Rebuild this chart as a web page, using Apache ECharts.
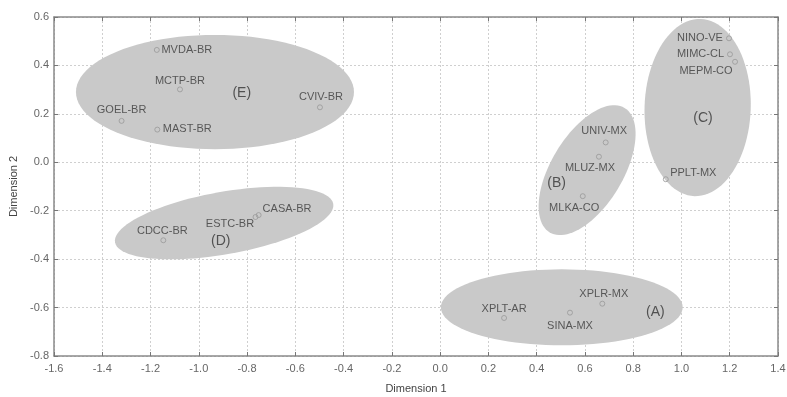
<!DOCTYPE html>
<html><head><meta charset="utf-8">
<script src="https://cdn.jsdelivr.net/npm/echarts@6/dist/echarts.min.js"></script>
<style>html,body{margin:0;padding:0;background:#fff}#c{width:787px;height:397px}</style>
</head><body><div id="c"></div>
<script>
// ---- data ----
const pointNames = ['MVDA-BR','MCTP-BR','GOEL-BR','MAST-BR','CVIV-BR','NINO-VE','MIMC-CL','MEPM-CO','PPLT-MX','UNIV-MX','MLUZ-MX','MLKA-CO','CASA-BR','ESTC-BR','CDCC-BR','XPLT-AR','SINA-MX','XPLR-MX'];
const dim1 = [-1.174,-1.078,-1.320,-1.172,-0.498,1.197,1.201,1.222,0.935,0.686,0.658,0.591,-0.752,-0.765,-1.147,0.265,0.538,0.672];
const dim2 = [0.464,0.301,0.171,0.135,0.227,0.512,0.446,0.415,-0.070,0.082,0.023,-0.140,-0.218,-0.226,-0.322,-0.643,-0.621,-0.584];

const clusterNames = ['(A)','(B)','(C)','(D)','(E)'];
const clusterLabelX = [0.892,0.483,1.089,-0.909,-0.822];
const clusterLabelY = [-0.618,-0.0875,0.182,-0.326,0.287];

const ellipseCx = [0.504,0.609,1.067,-0.895,-0.933];
const ellipseCy = [-0.599,-0.0325,0.226,-0.251,0.290];
const ellipseRx = [0.501,0.149,0.220,0.459,0.576];
const ellipseRy = [0.157,0.300,0.366,0.129,0.236];
const ellipseAngle = [0,-31,-2,10,0];

const xMin = -1.6, xMax = 1.4, yMin = -0.8, yMax = 0.6, step = 0.2;
const xTitle = 'Dimension 1', yTitle = 'Dimension 2';

// ---- label placement (style) ----
const labelOffset = {
  'MVDA-BR':[30,0],'MCTP-BR':[0,-8],'GOEL-BR':[0,-10.5],'MAST-BR':[30,-1],'CVIV-BR':[1,-10],
  'NINO-VE':[-29,0],'MIMC-CL':[-29.5,0],'MEPM-CO':[-29,9],'PPLT-MX':[27.5,-6.7],
  'UNIV-MX':[-1.5,-11.7],'MLUZ-MX':[-9,11],'MLKA-CO':[-8.6,11.3],
  'CASA-BR':[28.4,-6],'ESTC-BR':[-25.5,6.5],'CDCC-BR':[-1,-9],
  'XPLT-AR':[0,-9.5],'SINA-MX':[0,13],'XPLR-MX':[1.5,-10]
};

const FONT = '"Liberation Sans", Arial, sans-serif';
const chart = echarts.init(document.getElementById('c'), null, {renderer:'canvas'});

const pts = pointNames.map((n,i)=>({
  name:n, value:[dim1[i], dim2[i]],
  label:{offset: labelOffset[n] || [0,0]}
}));
const clusters = clusterNames.map((n,i)=>({name:n, value:[clusterLabelX[i], clusterLabelY[i]]}));
const ellipses = ellipseCx.map((c,i)=>[c, ellipseCy[i], ellipseRx[i], ellipseRy[i], ellipseAngle[i]]);

const fmt = v => (Math.abs(v) < 1e-9 ? 0 : v).toFixed(1);
const axisLineStyle = {color:'#8a8a8a', width:1.5};

chart.setOption({
  animation:false,
  backgroundColor:'#fff',
  grid:{left:54, right:9, top:17, bottom:41, containLabel:false, outerBoundsMode:'none'},
  xAxis:[{
    type:'value', min:xMin, max:xMax, interval:step, position:'bottom',
    name:xTitle, nameLocation:'middle', nameGap:27,
    nameTextStyle:{fontFamily:FONT, fontSize:11, color:'#444'},
    axisLine:{show:true, onZero:false, lineStyle:axisLineStyle},
    axisTick:{show:true, inside:true, length:4, lineStyle:{color:'#777'}},
    axisLabel:{formatter:fmt, fontFamily:FONT, fontSize:11, color:'#666', margin:7},
    splitLine:{show:true, lineStyle:{color:'#cfcfcf', type:[2,2], width:1}}
  },{
    type:'value', min:xMin, max:xMax, interval:step, position:'top',
    axisLine:{show:true, onZero:false, lineStyle:axisLineStyle},
    axisTick:{show:true, inside:true, length:4, lineStyle:{color:'#777'}},
    axisLabel:{show:false}, splitLine:{show:false}
  }],
  yAxis:[{
    type:'value', min:yMin, max:yMax, interval:step, position:'left',
    name:yTitle, nameLocation:'middle', nameGap:32,
    nameTextStyle:{fontFamily:FONT, fontSize:11, color:'#444'},
    axisLine:{show:true, onZero:false, lineStyle:axisLineStyle},
    axisTick:{show:true, inside:true, length:4, lineStyle:{color:'#777'}},
    axisLabel:{formatter:fmt, fontFamily:FONT, fontSize:11, color:'#666', margin:5},
    splitLine:{show:true, lineStyle:{color:'#cfcfcf', type:[2,2], width:1}}
  },{
    type:'value', min:yMin, max:yMax, interval:step, position:'right',
    axisLine:{show:true, onZero:false, lineStyle:axisLineStyle},
    axisTick:{show:true, inside:true, length:4, lineStyle:{color:'#777'}},
    axisLabel:{show:false}, splitLine:{show:false}
  }],
  series:[{
    type:'custom', xAxisIndex:0, yAxisIndex:0, z:2, silent:true,
    data: ellipses,
    encode:{x:0, y:1},
    renderItem:function(params, api){
      const c = api.coord([api.value(0), api.value(1)]);
      const s = api.size([1,1]);
      const a = api.value(2)*s[0], b = api.value(3)*s[1];
      const th = api.value(4)*Math.PI/180;
      const pts = [];
      for (let k=0;k<96;k++){
        const t = 2*Math.PI*k/96;
        const u = a*Math.cos(t), v = b*Math.sin(t);
        pts.push([c[0] + u*Math.cos(th) - v*Math.sin(th), c[1] - (u*Math.sin(th) + v*Math.cos(th))]);
      }
      return {type:'polygon', shape:{points:pts}, style:{fill:'#c9c9c9', stroke:null}};
    }
  },{
    type:'scatter', z:3, symbol:'circle', symbolSize:5,
    itemStyle:{color:'rgba(0,0,0,0)', borderColor:'#999', borderWidth:1},
    label:{show:true, position:'inside', formatter:'{b}', fontFamily:FONT, fontSize:11, color:'#3a3a3a'},
    data: pts
  },{
    type:'scatter', z:3, symbolSize:0,
    label:{show:true, position:'inside', formatter:'{b}', fontFamily:FONT, fontSize:14, color:'#333'},
    data: clusters
  }]
});
</script></body></html>
